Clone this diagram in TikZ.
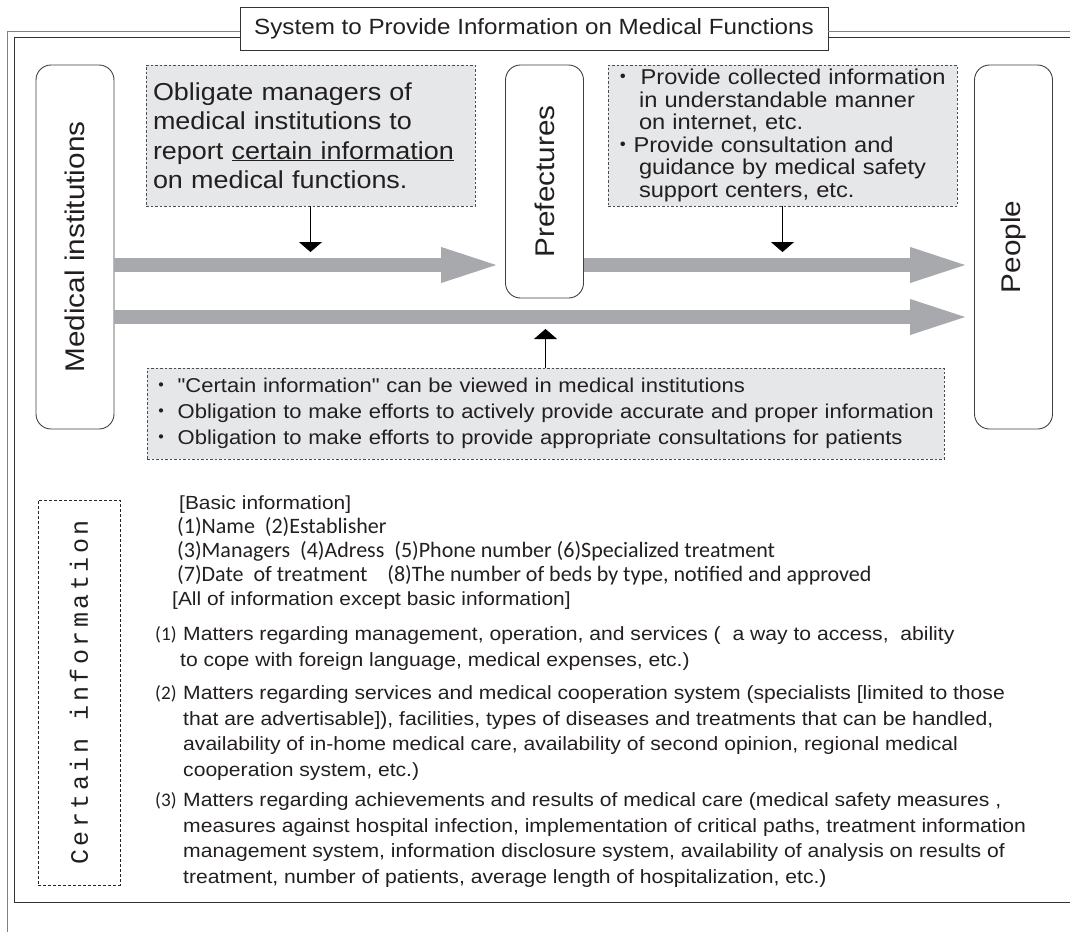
\documentclass[tikz,border=0pt]{standalone}
\usepackage{fontspec}
\setmainfont{Liberation Sans}[FakeStretch=1.1,Ligatures=TeXOff]
\newfontfamily\calfont{Carlito}
\newfontfamily\certfont[LetterSpace=14]{Liberation Mono}
\newfontfamily\cjkfont{Noto Sans CJK JP}
\usetikzlibrary{arrows.meta}
\definecolor{ink}{HTML}{231F20}
\definecolor{notefill}{HTML}{E6E7E8}
\definecolor{flowgray}{HTML}{A7A9AC}
\newcommand{\dotmark}{{\cjkfont ・}}
\newcommand{\itemno}[1]{\makebox[28pt][l]{\calfont #1}}

\begin{document}
\begin{tikzpicture}[x=1pt,y=-1pt,
    every node/.style={text=ink},
    actor/.style={draw=black!75,line width=0.9pt,rounded corners=15pt,minimum width=78pt,inner sep=0pt},
    note/.style={draw=black!70,fill=notefill,line width=0.7pt,dash pattern=on 2.5pt off 2pt,align=left,inner xsep=4pt,inner ysep=0pt},
    flow/.style={flowgray,line width=14pt,-{Triangle[length=61pt,width=31pt]}},
    pointer/.style={black,line width=0.8pt,-{Triangle[length=10pt,width=23pt]}},
    upright/.style={rotate=90,font=\fontsize{27}{30}\selectfont}]
  \useasboundingbox (0,0) rectangle (1070,932);
  % frame and title
  \node[draw=black!80,line width=0.9pt,minimum width=588pt,minimum height=43pt,font=\fontsize{22}{26}\selectfont] (title) at (534,28.5) {System to Provide Information on Medical Functions};
  \draw[black!50,line width=0.9pt] (7,932) -- (7,31) -- (title.west |- 0,31);
  \draw[black!80,line width=0.9pt] (1070,902) -- (14,902) -- (14,37) -- (title.west |- 0,37);
  \draw[black!50,line width=0.9pt] (title.east |- 0,31) -- (1070,31);
  \draw[black!80,line width=0.9pt] (title.east |- 0,37) -- (1070,37);
  % actors
  \node[actor,minimum height=364pt,label={[upright]center:Medical institutions}] (med) at (75,247) {};
  \node[actor,minimum height=233pt,label={[upright]center:Prefectures}] (pref) at (544.5,181.5) {};
  \node[actor,minimum height=364pt,label={[upright]center:People}] (people) at (1013.5,247) {};
  % notes
  \node[note,minimum width=329pt,minimum height=141pt,text width=315pt,inner xsep=7pt,font=\fontsize{24.5}{29.5}\selectfont] (oblige) at (310.5,135.5)
    {Obligate managers of\\ medical institutions to\\ report \underline{certain information}\\ on medical functions.};
  \node[note,minimum width=349pt,minimum height=141pt,text width=341pt,font=\fontsize{21.5}{22.5}\selectfont] (publish) at (782.5,135.5)
    {\dotmark\ Provide collected information\\ \hspace*{27pt}in understandable manner\\ \hspace*{27pt}on internet, etc.\\
     \dotmark Provide consultation and\\ \hspace*{27pt}guidance by medical safety\\ \hspace*{27pt}support centers, etc.};
  \node[note,minimum width=797pt,minimum height=91pt,text width=789pt,font=\fontsize{20}{26}\selectfont] (view) at (545.5,413.5)
    {\dotmark\ "Certain information" can be viewed in medical institutions\\
     \dotmark\ Obligation to make efforts to actively provide accurate and proper information\\
     \dotmark\ Obligation to make efforts to provide appropriate consultations for patients};
  % flows
  \coordinate (upper) at (0,265);
  \coordinate (lower) at (0,317);
  \draw[flow] (med.east |- upper) -- ([xshift=-3pt]pref.west |- upper);
  \draw[flow] (pref.east |- upper) -- ([xshift=-3pt]people.west |- upper);
  \draw[flow] (med.east |- lower) -- ([xshift=-3pt]people.west |- lower);
  \draw[pointer] (oblige.south) -- ([yshift=13pt]oblige.south |- upper);
  \draw[pointer] (publish.south) -- ([yshift=13pt]publish.south |- upper);
  \draw[pointer] (view.north) -- ([yshift=-12pt]view.north |- lower);
  % certain information
  \node[draw=black!85,line width=0.8pt,dash pattern=on 3pt off 2pt,minimum width=82pt,minimum height=385pt,
    label={[rotate=90,font=\certfont\fontsize{25}{28}\selectfont]center:Certain information}] (certain) at (79,692.5) {};
  \node[anchor=base west,inner sep=0pt,align=left,font=\fontsize{19}{24}\selectfont] (basic) at (172,605.5)
    {\hspace*{7pt}[Basic information]\\
     {\calfont\fontsize{22}{24}\selectfont\hspace*{5pt}(1)Name\ \ (2)Establisher}\\
     {\calfont\fontsize{22}{24}\selectfont\hspace*{5pt}(3)Managers\ \ (4)Adress\ \ (5)Phone number (6)Specialized treatment}\\
     {\calfont\fontsize{22}{24}\selectfont\hspace*{5pt}(7)Date\ \ of treatment\ \ \ \ (8)The number of beds by type, notified and approved}\\
     {[All of information except basic information]}};
  \node[anchor=base west,inner sep=0pt,align=left,font=\fontsize{19.2}{25.5}\selectfont] (itemA) at (155,666)
    {\itemno{(1)}Matters regarding management, operation, and services (\ \ a way to access,\ \ ability\\
     \hspace*{25pt}to cope with foreign language, medical expenses, etc.)};
  \node[anchor=base west,inner sep=0pt,align=left,font=\fontsize{19.2}{25.5}\selectfont] (itemB) at (155,776)
    {\itemno{(2)}Matters regarding services and medical cooperation system (specialists [limited to those\\
     \hspace*{28pt}that are advertisable]), facilities, types of diseases and treatments that can be handled,\\
     \hspace*{28pt}availability of in-home medical care, availability of second opinion, regional medical\\
     \hspace*{28pt}cooperation system, etc.)};
  \node[anchor=base west,inner sep=0pt,align=left,font=\fontsize{19.2}{25.5}\selectfont] (itemC) at (155,883)
    {\itemno{(3)}Matters regarding achievements and results of medical care (medical safety measures ,\\
     \hspace*{28pt}measures against hospital infection, implementation of critical paths, treatment information\\
     \hspace*{28pt}management system, information disclosure system, availability of analysis on results of\\
     \hspace*{28pt}treatment, number of patients, average length of hospitalization, etc.)};
\end{tikzpicture}
\end{document}
